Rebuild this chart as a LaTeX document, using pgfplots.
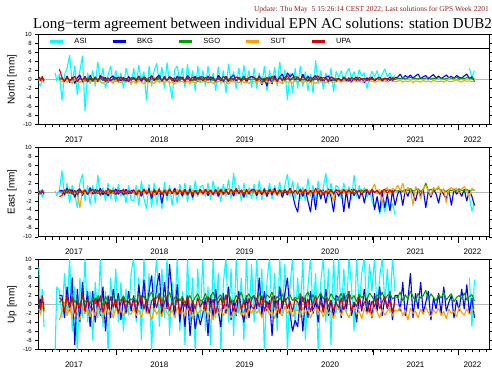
\documentclass[border=0pt]{standalone}
\usepackage{pgfplots}
\pgfplotsset{compat=1.18}
\usepackage{pgfplotstable}
\usepackage{fontspec}
\setmainfont{Liberation Serif}
\setsansfont{Liberation Sans}
\definecolor{cASI}{RGB}{0,255,255}
\definecolor{cBKG}{RGB}{0,0,255}
\definecolor{cSGO}{RGB}{0,160,0}
\definecolor{cSUT}{RGB}{255,160,0}
\definecolor{cUPA}{RGB}{220,0,0}
\definecolor{upd}{RGB}{150,30,30}

\pgfplotstableread{
x na nb ng ns nu ea eb eg es eu ua ub ug us uu
2017.09 -1.0 0.2 0.1 -0.3 0.6 -1.0 0.3 0.1 0.5 0.2 8.4 -1.0 0.5 -1.0 1.5
2017.11 -1.5 -0.3 0.0 0.4 -0.2 0.5 -0.5 -0.2 -0.4 -0.3 -2.0 1.2 -0.5 -2.3 -1.2
2017.13 0.4 0.3 0.2 -0.5 0.7 -1.2 0.2 0.3 0.6 0.4 3.5 -0.8 1.0 0.3 2.0
2017.15 -0.8 -0.2 -0.1 0.2 -0.4 0.3 -0.3 -0.1 -0.2 -0.5 -5.0 0.5 -1.0 -1.8 -1.5
2017.17 nan nan nan nan nan nan nan nan nan nan nan nan nan nan nan
2017.28 1.5 nan nan nan nan 0.2 nan nan nan nan -10.5 nan nan nan nan
2017.30 -0.3 nan nan nan nan -0.8 nan nan nan nan 4.0 nan nan nan nan
2017.33 1.2 0.3 0.1 -0.2 2.3 0.4 0.2 0.0 -0.2 -1.0 3.0 2.0 0.5 -3.5 1.5
2017.36 -4.7 0.3 0.1 -0.5 0.5 4.8 0.4 0.1 -0.3 -0.8 -3.0 2.0 1.0 -1.5 1.0
2017.39 1.0 -0.5 -0.2 0.2 -0.4 -1.0 -0.6 -0.2 0.4 0.5 7.0 -3.0 0.0 0.5 -1.5
2017.42 2.5 0.8 0.3 -0.6 0.6 2.0 0.9 0.3 -0.2 -0.3 -2.0 4.0 1.5 -2.5 2.0
2017.45 5.5 -0.7 -0.1 -0.2 -0.3 -2.5 -0.3 0.0 0.5 0.7 10.5 -1.5 -0.5 -0.5 -0.8
2017.48 -1.0 0.5 0.2 -0.8 0.2 1.5 0.5 -0.3 -0.4 -0.5 -6.0 6.0 2.0 -3.0 1.5
2017.51 3.0 -0.9 0.0 0.1 0.7 -0.5 -1.2 0.2 0.3 0.4 4.0 -9.0 0.5 0.0 -2.0
2017.54 -3.5 0.4 -0.3 -0.4 -0.5 -3.5 0.3 0.1 -0.5 -0.7 -10.5 3.5 1.2 -2.0 0.5
2017.57 2.0 1.0 0.2 -0.7 0.4 2.0 0.7 -0.1 -3.5 0.6 6.0 -4.0 -0.3 -3.5 -1.0
2017.60 5.3 -0.6 0.1 -0.1 -0.2 4.0 -0.8 0.3 0.4 -0.2 -3.0 5.0 1.8 -0.5 2.5
2017.63 -7.0 0.7 -0.2 -0.5 0.6 -2.0 0.4 -0.2 -0.3 0.5 10.5 -2.0 0.6 -2.0 -1.5
2017.66 1.5 -0.4 0.3 -0.3 -0.6 1.5 -0.5 0.0 0.2 -0.6 -4.0 3.0 1.0 -1.0 1.2
2017.69 -1.0 0.9 0.0 -0.6 0.3 -2.8 1.0 0.2 -0.4 0.3 3.0 -5.0 0.2 -2.8 -0.5
2017.72 2.0 -0.3 0.2 -0.3 -0.4 1.5 -0.5 0.1 0.3 0.6 -8.0 3.0 1.5 -1.0 -1.2
2017.75 -1.5 0.6 -0.1 -0.7 0.5 -2.5 0.6 0.3 -0.4 -0.4 5.0 -4.0 0.2 -2.5 1.5
2017.78 4.0 -0.5 0.1 0.0 -0.2 3.8 -0.4 -0.2 0.2 0.5 -3.0 1.5 2.0 0.0 -0.5
2017.81 -0.5 0.9 0.3 -0.5 0.3 -1.0 0.8 0.1 -0.6 -0.7 10.5 -2.5 0.8 -1.8 2.0
2017.84 2.5 -0.2 -0.2 -0.9 0.6 1.0 -0.6 0.2 0.4 0.3 -5.0 4.0 -0.2 -3.5 -1.8
2017.87 -2.0 0.5 0.0 -0.2 -0.5 -2.0 0.3 -0.1 -0.2 -0.5 3.0 -6.0 1.8 -0.5 0.8
2017.90 1.0 -0.7 0.2 -0.6 0.4 2.0 -0.9 0.0 0.3 0.8 -10.5 2.0 0.5 -2.2 -1.0
2017.93 3.0 0.4 -0.1 -0.4 -0.3 -1.5 0.5 0.3 -0.5 -0.3 6.0 -3.0 1.2 -1.0 1.8
2017.96 -1.0 0.8 0.1 -0.8 0.2 1.2 -0.3 -0.2 0.1 0.4 -2.0 3.5 2.2 -3.0 -0.6
2017.99 2.0 -0.4 0.2 -0.1 0.5 -2.2 0.7 0.1 -0.3 -0.6 8.0 -1.0 0.3 -0.8 1.2
2018.02 -0.8 0.6 -0.2 -0.5 -0.4 1.8 -0.5 0.2 0.4 0.5 -4.0 2.5 1.5 -2.0 -2.0
2018.05 1.5 -0.3 0.1 -0.7 0.6 -1.0 0.4 -0.1 -0.2 -0.2 5.0 -3.5 0.8 -1.2 0.5
2018.08 -2.0 0.5 0.0 -0.3 -0.2 0.8 -0.7 0.1 0.5 0.6 -6.0 1.5 2.0 -2.6 1.5
2018.11 2.5 -0.6 0.2 -0.6 0.3 -2.5 0.6 -0.2 -0.4 -0.5 3.5 -2.0 0.5 -0.4 -1.2
2018.14 0.5 0.7 -0.1 -0.2 -0.5 1.5 -0.4 0.2 0.2 0.3 -2.5 3.0 1.6 -1.8 0.8
2018.17 -1.2 -0.2 0.1 -0.8 0.4 -1.8 0.3 0.0 -0.3 -0.4 7.0 -1.5 1.0 -2.2 -0.4
2018.20 2.5 0.5 0.1 -0.4 0.3 -2.0 0.4 -0.1 -0.2 0.5 10.5 2.0 1.5 -0.8 1.0
2018.23 -1.0 -0.3 0.2 -0.8 -0.4 1.5 -0.7 0.2 0.4 -0.6 -4.0 -3.0 0.5 -2.5 -1.5
2018.26 3.2 0.8 -0.1 -0.2 0.6 -3.0 0.5 0.1 -0.5 0.4 6.0 4.5 2.5 -1.2 0.5
2018.29 -0.5 -0.5 0.3 -0.6 -0.2 2.5 -1.0 -0.2 0.3 -0.3 -8.0 -1.0 1.0 -3.0 2.0
2018.32 1.8 0.6 0.0 -1.0 0.5 -1.5 0.6 0.3 -0.3 0.7 10.5 5.5 2.0 -0.5 -1.0
2018.35 -4.7 0.2 0.2 -0.3 -0.5 -3.8 -0.3 0.0 0.5 -0.5 -2.0 -2.0 0.2 -2.0 1.2
2018.38 3.0 -0.6 -0.2 -0.7 0.4 1.8 0.8 -0.1 -0.4 0.3 7.0 3.0 1.8 -1.5 -2.0
2018.41 -1.5 0.9 0.1 -0.5 0.7 -3.5 -1.5 0.2 0.2 -0.8 -10.5 6.5 2.8 -3.5 0.8
2018.44 2.0 -0.2 0.3 -0.9 -0.3 2.0 0.4 -0.2 -0.6 0.6 4.0 -1.5 0.8 -0.8 1.5
2018.47 3.6 0.5 -0.1 -0.2 0.2 -2.8 -0.6 0.1 0.4 -0.4 10.5 4.0 1.5 -2.2 -0.8
2018.50 -0.8 1.0 0.2 -0.6 0.6 1.0 0.7 0.3 -0.2 0.5 -5.0 7.0 2.5 -1.0 2.2
2018.53 2.8 -0.4 0.0 -0.4 -0.4 -3.8 -2.5 -0.1 0.3 -0.6 8.0 -2.5 0.6 -2.8 -1.2
2018.56 -2.0 0.7 0.1 -0.8 0.5 2.2 0.5 0.0 -0.5 0.3 -3.0 5.0 2.0 -0.3 0.5
2018.59 3.8 -0.3 -0.2 -0.3 -0.2 -2.0 -0.8 0.2 0.5 -0.5 10.5 -1.0 1.2 -1.8 1.8
2018.62 -1.0 0.6 0.3 -0.7 0.7 1.5 0.6 -0.2 -0.3 0.7 -7.0 9.0 2.8 -2.5 -1.5
2018.65 -4.3 0.3 0.1 -0.5 -0.3 -3.0 -0.4 0.1 0.2 -0.3 5.0 2.0 0.5 -1.2 0.6
2018.68 2.2 -0.5 -0.1 -1.0 0.4 0.8 0.9 0.2 -0.4 0.4 -2.0 -3.0 1.5 -3.0 -0.8
2018.71 3.0 0.8 0.2 -0.2 -0.5 -2.5 -0.6 -0.1 0.6 -0.6 10.5 4.5 2.2 -0.6 1.5
2018.74 -0.5 -0.2 0.0 -0.6 0.6 1.8 0.3 0.3 -0.2 0.5 -6.0 -4.0 0.8 -2.0 -2.0
2018.77 2.6 0.6 0.3 -0.4 0.2 -1.2 -0.9 0.0 0.4 -0.4 3.0 1.5 1.8 -1.4 1.0
2018.80 -1.8 -0.4 -0.1 -0.9 -0.4 2.0 0.5 -0.2 -0.5 0.6 -9.0 -5.0 0.3 -2.6 -0.5
2018.83 3.4 0.9 0.1 -0.3 0.5 -2.2 -0.4 0.1 0.3 -0.7 10.5 2.0 1.2 -0.8 2.0
2018.86 -1.2 0.2 0.2 -0.7 -0.3 1.5 0.7 0.2 -0.3 0.3 -4.0 -7.0 2.0 -1.6 -1.5
2018.89 2.0 -0.3 -0.2 -0.5 0.6 -1.8 -1.2 -0.1 0.5 -0.5 6.0 0.5 0.5 -3.2 0.8
2018.92 -2.5 0.7 0.1 -0.8 -0.2 2.5 0.4 0.0 -0.4 0.4 -10.5 -5.5 1.6 -0.9 -1.0
2018.95 3.0 -0.5 0.3 -0.2 0.4 -1.0 -0.5 0.3 0.2 -0.6 8.0 -2.0 2.4 -2.0 1.5
2018.98 -0.8 0.6 0.0 -0.6 0.3 1.2 0.6 -0.1 -0.3 0.5 -3.0 -4.5 0.8 -1.3 -0.6
2019.01 2.0 0.6 0.2 -0.5 -0.3 1.5 -0.4 0.2 0.4 -0.5 10.5 -2.0 1.0 -1.5 0.8
2019.04 -1.5 -0.4 -0.1 -0.2 0.5 -1.0 0.5 -0.1 -0.3 0.6 -6.0 1.5 2.5 -0.5 -1.5
2019.07 3.0 0.8 0.1 -0.8 -0.2 2.0 -0.8 0.1 0.6 -0.3 4.0 -7.0 0.5 -2.8 1.8
2019.10 -0.8 -0.2 0.3 -0.4 0.6 -1.8 0.3 0.3 -0.4 0.5 -9.0 2.0 1.8 -1.2 -0.6
2019.13 1.5 0.5 -0.2 -0.9 0.3 2.5 -0.5 -0.2 0.3 -0.7 10.5 -3.0 2.8 -3.5 1.2
2019.16 -2.5 -0.6 0.1 -0.3 -0.4 -0.5 0.6 0.0 -0.2 0.4 -3.0 3.5 0.8 -0.8 -2.0
2019.19 2.8 0.9 0.0 -0.6 0.5 1.2 -1.0 0.2 0.5 -0.4 7.0 -1.5 1.5 -2.0 0.5
2019.22 -1.0 0.3 0.2 -0.1 -0.3 -2.2 0.4 -0.1 -0.5 0.7 -10.5 -5.0 2.2 -1.0 1.5
2019.25 2.0 -0.5 -0.1 -0.7 0.7 1.8 -0.3 0.3 0.4 -0.6 5.0 2.5 0.3 -2.6 -1.0
2019.28 -3.0 0.7 0.3 -0.5 0.2 -1.0 0.7 0.1 -0.3 0.3 10.5 -2.0 1.8 -0.4 2.2
2019.31 3.5 -0.3 0.1 -1.0 -0.5 2.8 -0.6 -0.2 0.8 -0.5 -4.0 4.0 2.6 -1.8 -0.8
2019.34 -0.5 0.6 -0.2 -0.3 0.4 -1.5 0.4 0.2 -0.2 0.6 8.0 -3.5 1.0 -3.0 1.0
2019.37 1.8 1.0 0.2 -0.6 -0.2 4.3 -0.9 0.0 0.5 -0.3 -7.0 1.0 0.5 -1.2 -1.5
2019.40 -2.0 -0.4 0.0 -0.4 0.6 -0.8 0.5 -0.1 -0.4 0.8 10.5 -2.5 2.0 -2.2 0.6
2019.43 2.6 0.5 0.1 -0.8 0.3 1.5 -0.4 0.3 0.3 -0.4 -2.0 3.0 1.4 -0.6 2.0
2019.46 -1.2 -0.2 0.3 -0.2 -0.4 -2.0 0.3 0.1 -0.6 0.5 6.0 -1.0 2.8 -2.5 -1.2
2019.49 3.2 0.8 -0.1 -0.7 0.5 2.0 -1.2 -0.2 0.6 -0.6 -8.0 -4.0 0.6 -1.5 0.8
2019.52 -0.8 -0.6 0.2 -0.5 -0.2 -1.2 0.6 0.2 -0.3 0.4 10.5 2.0 1.6 -3.2 -1.8
2019.55 2.0 0.4 0.0 -0.9 0.4 1.0 -0.5 0.1 0.4 -0.3 -3.0 -3.0 2.4 -0.8 1.4
2019.58 -1.8 0.7 0.1 -0.4 0.6 -1.5 0.4 -0.1 -0.2 0.6 9.0 1.5 1.0 -2.0 -0.5
2019.61 2.5 0.5 0.1 -0.4 0.4 1.8 0.5 0.1 -0.3 0.6 -4.0 2.0 2.0 -0.5 -1.0
2019.64 -2.0 -0.3 0.2 -0.7 -0.3 -1.5 -0.8 -0.2 0.5 -0.4 10.5 -1.0 0.8 -2.0 1.5
2019.67 1.5 0.8 -0.1 -0.2 0.6 2.5 0.3 0.2 -0.2 0.5 -2.0 6.0 2.5 -1.0 -0.5
2019.70 -1.2 -1.2 0.0 -0.9 0.2 -1.8 -0.5 0.0 0.4 -0.6 8.0 -2.5 1.2 -3.0 2.0
2019.73 3.0 0.4 0.3 -0.5 -0.5 1.0 0.7 0.1 -0.5 0.3 -10.5 3.0 0.5 -1.5 -1.5
2019.76 -2.5 -1.5 -0.2 -0.3 0.5 -1.2 -1.0 0.3 0.3 -0.5 5.0 -1.5 2.2 -0.6 0.8
2019.79 2.0 0.6 0.1 -0.8 -0.2 2.0 0.4 -0.1 -0.3 0.7 10.5 1.0 1.5 -2.4 -1.2
2019.82 -1.0 -1.0 0.2 -0.6 0.7 -1.6 -0.6 0.2 0.6 -0.3 -3.0 -7.0 2.8 -1.2 1.8
2019.85 2.8 0.9 0.0 -0.2 0.3 1.5 0.8 0.0 -0.2 0.4 7.0 2.0 0.8 -3.2 -0.6
2019.88 -1.5 -0.5 -0.1 -0.7 -0.4 -0.8 -0.4 -0.2 0.4 -0.7 -6.0 -3.0 1.8 -0.8 1.0
2019.91 4.0 0.7 0.3 -0.4 0.6 2.2 0.5 0.1 -0.4 0.5 10.5 4.0 1.0 -1.8 -2.0
2019.94 -0.8 1.2 0.1 -1.0 -0.3 -1.0 -1.2 0.3 0.2 -0.4 -2.0 -1.0 2.4 -2.6 0.6
2019.97 2.2 -0.4 -0.2 -0.3 0.5 1.5 0.3 0.0 0.5 0.6 9.0 2.5 0.6 -0.4 1.5
2020.00 -4.6 1.5 0.2 -0.6 0.8 4.0 -0.7 0.2 -0.3 -0.3 -10.5 6.0 1.5 -2.0 -1.0
2020.03 1.5 0.6 0.0 -0.5 -0.2 -1.0 0.9 -0.1 0.4 0.8 4.0 -2.0 2.2 -1.0 0.8
2020.06 -3.0 1.3 0.1 -0.8 0.4 2.5 -0.5 0.1 -0.2 -0.5 10.5 -6.0 0.8 -2.8 -1.6
2020.09 2.5 -0.3 0.2 -0.2 0.6 -1.5 -3.0 0.2 0.3 0.4 -5.0 -3.5 1.6 -1.4 1.2
2020.12 -2.0 0.6 0.0 -0.6 0.5 2.0 -4.5 0.2 0.3 -0.5 6.0 -5.0 1.2 -1.2 0.6
2020.15 3.0 -0.4 0.2 -0.3 -0.3 -1.5 0.5 -0.1 -0.4 0.7 -3.0 2.0 2.5 -2.8 -1.2
2020.18 -1.5 1.2 -0.1 -0.8 0.7 1.2 -1.0 0.3 0.5 -0.3 10.5 -6.0 0.6 -0.6 1.8
2020.21 1.8 -0.2 0.3 -0.4 0.2 -2.0 0.6 0.0 -0.2 0.6 -8.0 1.5 1.8 -2.0 -0.8
2020.24 -2.5 0.8 0.1 -0.2 -0.4 3.0 -2.0 -0.2 0.4 -0.6 4.0 -3.0 2.8 -1.0 1.2
2020.27 1.2 -0.5 -0.2 -0.7 0.6 -1.0 -4.5 0.1 -0.5 0.4 10.5 3.0 1.0 -3.0 -1.6
2020.30 -3.0 0.4 0.2 -0.5 -0.2 1.5 0.4 0.2 0.3 -0.5 -2.0 -2.0 2.2 -1.5 0.4
2020.33 4.3 0.9 0.0 -0.9 0.4 -2.0 -4.0 -0.1 -0.3 0.8 7.0 1.0 0.5 -0.5 2.0
2020.36 -1.0 -0.3 0.1 -0.3 0.8 2.5 0.8 0.3 0.6 -0.4 -10.5 -4.0 1.6 -2.4 -1.0
2020.39 2.0 0.6 0.3 -0.6 -0.3 -1.8 -1.5 0.0 -0.4 0.5 5.0 2.5 2.6 -1.2 0.8
2020.42 -2.2 -0.6 -0.1 -0.4 0.5 1.0 0.5 0.1 0.2 -0.7 10.5 -1.5 1.2 -2.8 -1.8
2020.45 1.5 0.5 0.2 -0.8 0.2 4.2 -2.5 -0.2 -0.5 0.3 -4.0 3.5 2.0 -0.8 1.4
2020.48 -1.0 0.8 0.0 -0.2 -0.5 -1.2 0.7 0.2 0.4 -0.4 8.0 -2.5 0.8 -2.0 -0.6
2020.51 2.5 -0.4 0.1 -0.5 0.6 2.0 -1.0 0.1 -0.3 0.6 -9.0 1.0 2.4 -1.4 1.0
2020.54 -2.8 0.3 -0.2 -0.7 0.3 -1.0 -4.5 -0.1 -2.0 -0.5 10.5 -3.0 1.5 -3.2 -1.4
2020.57 1.8 -0.5 0.2 -0.3 -0.2 1.5 0.6 0.3 0.5 0.4 -2.0 2.0 0.6 -1.0 0.5
2020.60 0.5 0.3 0.1 -0.3 0.3 1.0 -1.0 0.1 -0.3 0.4 10.5 1.5 1.5 -1.0 -0.8
2020.63 2.0 -0.5 -0.1 -0.6 -0.2 -1.5 0.5 0.3 0.4 -0.5 -3.0 -3.0 2.5 -2.5 1.5
2020.66 -0.5 0.6 0.2 -0.2 0.5 2.0 -4.5 -0.1 -0.2 0.6 8.0 2.5 0.8 -0.5 -1.2
2020.69 1.5 -0.3 0.0 -0.5 0.1 -0.5 0.4 0.2 0.5 -0.3 -2.0 -1.0 1.8 -1.8 0.8
2020.72 2.5 0.4 0.1 -0.4 -0.3 1.2 -3.7 0.0 -0.4 0.5 10.5 3.0 2.8 -3.0 2.0
2020.75 0.2 -0.6 0.2 -0.7 0.4 -1.8 0.6 0.3 0.3 -0.4 4.0 -2.5 1.2 -1.2 -1.5
2020.78 1.8 0.2 -0.1 -0.2 0.2 3.8 -0.8 -0.2 0.6 0.7 -6.0 0.5 2.0 -0.6 0.6
2020.81 -0.3 0.5 0.1 -0.5 -0.2 -1.0 0.3 0.1 -0.3 -0.2 10.5 -4.0 0.6 -2.2 -0.5
2020.84 2.2 -0.4 0.0 -0.3 0.5 1.5 -1.5 0.2 0.5 0.4 -1.0 2.0 2.4 -1.5 1.8
2020.87 0.8 0.3 0.2 -0.6 0.0 -0.8 0.5 0.4 -0.2 -0.6 7.0 -1.5 1.5 -3.2 -1.0
2020.90 1.5 -0.7 0.1 -0.4 0.3 1.0 -2.5 0.0 0.4 0.3 10.5 3.5 2.2 -0.8 0.4
2020.93 -2.0 0.4 -0.1 -0.2 -0.3 -1.2 0.4 0.2 0.7 0.5 -2.0 -2.0 1.0 -2.0 1.2
2020.96 0.3 -0.2 0.2 -0.5 0.4 0.5 -0.6 -0.1 -0.3 -0.4 9.0 1.0 2.6 -1.2 -1.8
2020.99 1.8 0.6 0.0 -0.3 0.2 -2.0 0.7 0.3 0.5 0.6 3.0 -3.0 1.8 -2.8 0.8
2021.02 0.5 -0.3 0.1 -0.6 -0.2 -3.5 -4.0 0.1 1.8 -0.2 10.5 2.5 0.8 -0.4 -0.5
2021.05 2.0 0.2 0.2 -0.4 0.3 -1.0 -1.0 0.2 -0.4 0.4 -1.5 -1.5 2.2 -1.6 1.5
2021.08 -0.2 0.5 0.0 -0.2 0.5 -5.0 -4.5 -0.2 0.6 -0.5 6.0 4.0 1.4 -3.0 -1.0
2021.11 1.2 -0.4 0.1 -0.5 -0.1 -2.0 0.3 0.3 -2.5 0.3 10.5 -2.5 2.8 -1.0 0.6
2021.14 2.4 0.3 0.2 -0.3 0.3 -4.5 -3.5 0.1 0.5 0.6 0.5 1.5 1.0 -2.4 1.8
2021.17 0.6 -0.2 -0.1 -0.6 0.2 -1.5 -0.5 0.5 1.0 -0.3 8.0 -1.0 2.0 -1.5 -0.8
2021.20 1.5 0.6 0.1 -0.2 -0.2 -4.0 -4.2 0.0 -0.3 0.5 -2.0 3.0 2.5 -0.8 1.0
2021.23 0.3 -0.3 0.2 -0.4 0.4 -2.5 0.4 0.2 0.8 -0.2 10.5 -3.5 1.2 -2.6 -1.5
2021.26 1.0 0.4 0.0 -0.5 0.1 -5.0 -3.0 0.3 0.4 0.4 3.0 2.0 1.8 -1.2 0.5
2021.29 nan 0.5 0.3 -0.4 nan nan -0.5 0.2 1.5 nan nan 2.0 1.5 -1.5 nan
2021.32 nan 1.2 0.2 -0.1 nan nan 0.6 0.5 0.3 nan nan -1.5 2.8 -0.5 nan
2021.35 nan 0.2 0.4 -0.6 nan nan -3.0 0.1 2.0 nan nan 5.0 0.8 -2.5 nan
2021.38 nan 0.9 0.1 -0.3 nan nan 0.4 0.6 -0.5 nan nan -2.5 2.2 -1.2 nan
2021.41 nan 0.4 0.3 -0.5 nan nan -1.0 0.3 1.0 nan nan 1.0 1.2 -3.5 nan
2021.44 nan 1.0 0.5 -0.2 nan nan 0.8 0.8 0.6 nan nan 7.0 3.0 -0.8 nan
2021.47 nan 0.3 0.2 -0.7 nan nan -0.3 0.2 -3.0 nan nan -3.0 1.8 -2.0 nan
2021.50 nan 0.8 0.3 -0.3 nan nan -2.0 0.4 1.2 nan nan 2.5 0.6 -1.5 nan
2021.53 nan 1.2 0.1 -0.4 nan nan 0.5 0.7 0.4 nan nan -1.0 2.5 -3.0 nan
2021.56 nan 0.2 0.4 -0.6 nan nan -0.8 0.1 -1.5 nan nan 5.0 1.4 -1.0 nan
2021.59 nan 0.6 0.2 -0.2 nan nan 0.7 0.5 0.8 nan nan -2.0 2.0 -2.2 nan
2021.62 nan 0.9 0.3 -0.5 nan nan -3.5 2.0 1.5 nan nan 0.5 3.2 -0.6 nan
2021.65 nan 0.1 0.5 -0.3 nan nan 0.3 0.3 0.2 nan nan 3.0 1.0 -1.8 nan
2021.68 nan 0.7 0.1 -0.6 nan nan -1.2 0.6 -0.8 nan nan -3.5 2.4 -2.8 nan
2021.71 nan 1.1 0.3 -0.2 nan nan 0.6 0.2 1.0 nan nan 1.5 1.6 -1.2 nan
2021.74 nan 0.3 0.2 -0.4 nan nan -0.4 0.5 0.5 nan nan -1.0 0.8 -2.0 nan
2021.77 nan 0.8 0.4 -0.5 nan nan -2.5 0.8 1.3 nan nan 2.5 2.2 -0.8 nan
2021.80 nan 0.2 0.3 -0.3 nan nan 0.5 0.3 -0.3 nan nan -2.0 1.4 -2.5 nan
2021.83 nan 0.6 0.1 -0.6 nan nan -0.6 0.4 0.8 nan nan 4.0 2.8 -1.5 nan
2021.86 nan 1.0 0.2 -0.2 nan nan -1.5 0.1 -2.5 nan nan -1.5 1.0 -3.2 nan
2021.89 nan 0.4 0.4 -0.4 nan nan 0.4 0.6 0.6 nan nan 0.5 1.8 -1.0 nan
2021.92 nan 0.7 0.3 -0.5 nan nan -3.0 0.3 1.0 nan nan 2.0 2.4 -2.0 nan
2021.95 nan 0.2 0.2 -0.3 nan nan 0.7 0.5 0.2 nan nan -3.0 0.6 -1.5 nan
2021.98 nan 0.9 0.5 -0.1 nan nan -0.5 0.2 0.9 nan nan 1.0 1.6 -2.8 nan
2022.01 nan 0.5 0.1 -0.4 nan nan 0.3 0.7 -0.5 nan nan -1.5 2.0 -0.6 nan
2022.04 nan 0.3 0.3 -0.6 nan nan -1.0 0.4 0.7 nan nan 3.5 1.2 -1.8 nan
2022.07 nan 0.8 0.2 -0.2 nan nan 0.6 0.3 1.2 nan nan -1.0 2.6 -2.4 nan
2022.10 nan 1.2 0.4 -0.4 nan nan -2.0 0.6 0.3 nan nan 4.5 1.0 -1.0 nan
2022.13 2.5 0.2 0.3 -0.3 nan -1.0 0.4 0.2 -1.0 nan 6.0 -2.0 1.8 -2.2 nan
2022.16 0.5 0.6 0.2 -0.5 nan -4.3 -1.0 0.5 0.8 nan -5.0 1.5 2.2 -1.6 nan
2022.19 2.0 -0.5 0.3 -0.2 nan -2.5 -3.0 0.4 0.4 nan 5.5 -3.0 0.8 -0.8 nan
}\data

\pgfplotsset{
  panel/.style={
    scale only axis, width=450.7pt, height=89.6pt,
    xmin=2017.083, xmax=2022.36, ymin=-10, ymax=10,
    unbounded coords=jump,
    axis line style={line width=0.8pt},
    tick align=outside,
    major tick length=3pt, minor tick length=3pt,
    tick style={black, line width=0.5pt},
    xtick pos=left,
    xtick={2017.5,2018.5,2019.5,2020.5,2021.5,2022.1667},
    xticklabels={2017,2018,2019,2020,2021,2022},
    xticklabel style={font=\sffamily\fontsize{8}{9}\selectfont, yshift=-6pt},
    minor xtick={2017.1667,2017.25,...,2022.34},
    extra x ticks={2018,2019,2020,2021,2022},
    extra x tick labels={},
    extra x tick style={major tick length=6pt},
    ytick={-10,-8,...,10},
    yticklabel pos=left,
    yticklabel style={font=\sffamily\fontsize{6}{7}\selectfont},
    /pgf/number format/assume math mode=true,
    every axis y label/.style={at={(axis description cs:0,0.5)}, xshift=-26.3pt, rotate=90, anchor=center, font=\sffamily\fontsize{10}{12}\selectfont},
  },
  ser/.style={line width=1.1pt, mark=none, line join=bevel},
}

\begin{document}
\begin{tikzpicture}
\path[use as bounding box] (-38.3pt,34.7pt) rectangle (453.7pt,-335.3pt);

\begin{axis}[panel, at={(0pt,0pt)}, anchor=north west, ylabel={North [mm]},
  legend image code/.code={\draw[#1,line width=2.5pt](0pt,0pt)--(13pt,0pt);},
  legend style={at={(rel axis cs:0,1)}, anchor=west, xshift=10.5pt, yshift=-6.8pt,
    draw=none, fill=none, legend columns=5, inner sep=0pt,
    nodes={inner sep=1pt},
    font=\sffamily\fontsize{7.5}{9}\selectfont,
    /tikz/every odd column/.append style={column sep=9pt},
    /tikz/every even column/.append style={column sep=24pt}}]
\addplot[gray!55, line width=0.8pt, forget plot] coordinates {(2017.083,0) (2022.36,0)};
\addplot[ser, cASI] table[x=x, y=na] {\data}; \addlegendentry{ASI}
\addplot[ser, cBKG] table[x=x, y=nb] {\data}; \addlegendentry{BKG}
\addplot[ser, cSGO] table[x=x, y=ng] {\data}; \addlegendentry{SGO}
\addplot[ser, cSUT] table[x=x, y=ns] {\data}; \addlegendentry{SUT}
\addplot[ser, cUPA] table[x=x, y=nu] {\data}; \addlegendentry{UPA}
\addplot[black, line width=0.6pt, forget plot] coordinates {(2017.083,7) (2022.36,7)};
\end{axis}

\begin{axis}[panel, at={(0pt,-112.5pt)}, anchor=north west, ylabel={East [mm]}]
\addplot[gray!55, line width=0.8pt] coordinates {(2017.083,0) (2022.36,0)};
\addplot[ser, cASI] table[x=x, y=ea] {\data};
\addplot[ser, cBKG] table[x=x, y=eb] {\data};
\addplot[ser, cSGO] table[x=x, y=eg] {\data};
\addplot[ser, cSUT] table[x=x, y=es] {\data};
\addplot[ser, cUPA] table[x=x, y=eu] {\data};
\end{axis}

\begin{axis}[panel, at={(0pt,-225pt)}, anchor=north west, ylabel={Up [mm]}]
\addplot[gray!55, line width=0.8pt] coordinates {(2017.083,0) (2022.36,0)};
\addplot[ser, cASI] table[x=x, y=ua] {\data};
\addplot[ser, cBKG] table[x=x, y=ub] {\data};
\addplot[ser, cSGO] table[x=x, y=ug] {\data};
\addplot[ser, cSUT] table[x=x, y=us] {\data};
\addplot[ser, cUPA] table[x=x, y=uu] {\data};
\end{axis}

\node[anchor=base, font=\fontsize{15}{18}\selectfont, inner sep=0pt] at (224.2pt,6.4pt) {Long−term agreement between individual EPN AC solutions: station DUB2};
\node[anchor=base east, text=upd, font=\fontsize{7.5}{9}\selectfont, inner sep=0pt] at (450.7pt,23.7pt) {Update: Thu May~~5 15:26:14 CEST 2022; Last solutions for GPS Week 2201};
\end{tikzpicture}
\end{document}
